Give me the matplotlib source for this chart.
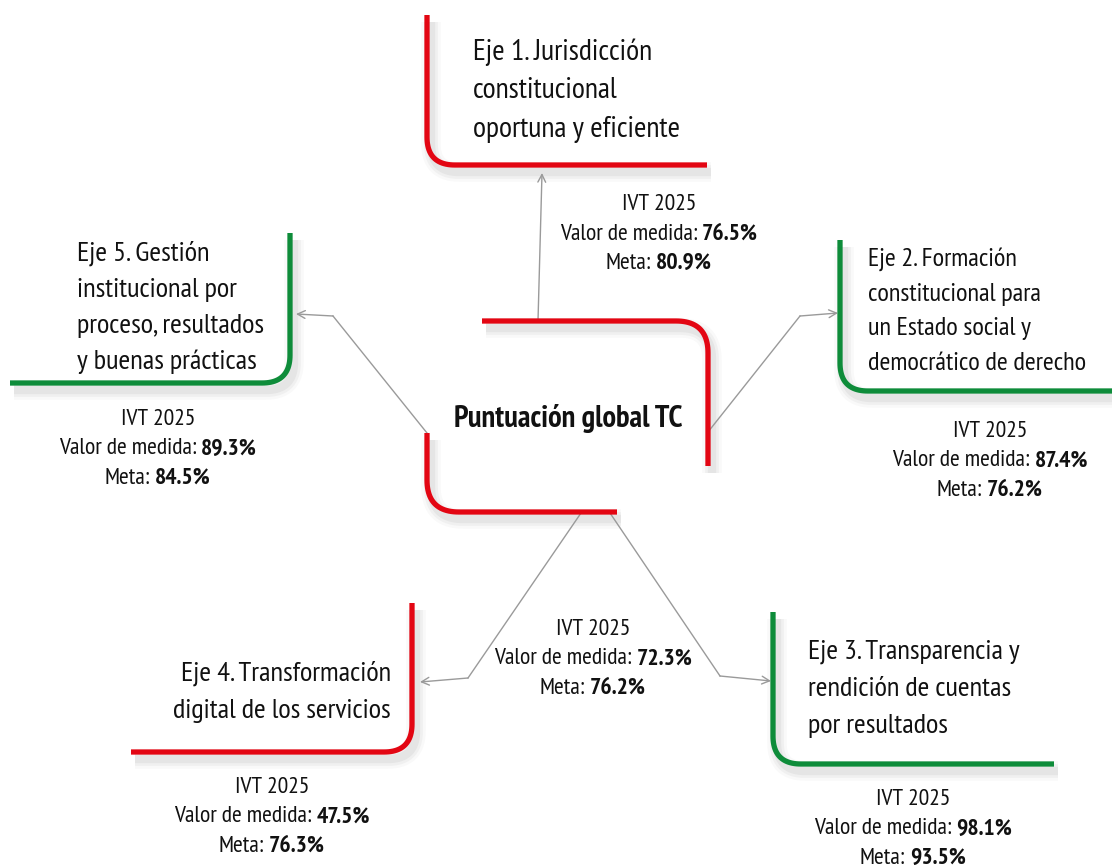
import numpy as np
import matplotlib
matplotlib.use("Agg")
import matplotlib.pyplot as plt

# ---------------- data ----------------
ejes = [
    "Eje 1. Jurisdicción\nconstitucional\noportuna y eficiente",
    "Eje 2. Formación\nconstitucional para\nun Estado social y\ndemocrático de derecho",
    "Eje 3. Transparencia y\nrendición de cuentas\npor resultados",
    "Eje 4. Transformación\ndigital de los servicios",
    "Eje 5. Gestión\ninstitucional por\nproceso, resultados\ny buenas prácticas",
]
valor = [76.5, 87.4, 98.1, 47.5, 89.3]
meta = [80.9, 76.2, 93.5, 76.3, 84.5]
global_titulo = "Puntuación global TC"
global_valor = 72.3
global_meta = 76.2
periodo = "IVT 2025"

# ---------------- style / layout ----------------
RED = "#E30613"
GREEN = "#0E8C3A"
GRAY = "#9a9a9a"
TXT = "#111111"
FONT = ["PT Sans Narrow", "DejaVu Sans"]

W, H = 1112, 865
fig = plt.figure(figsize=(W / 100, H / 100), dpi=100)
ax = fig.add_axes([0, 0, 1, 1])
ax.set_xlim(0, W)
ax.set_ylim(H, 0)
ax.axis("off")
renderer = fig.canvas.get_renderer()


def rounded(pts, r, n=24):
    pts = [np.array(p, float) for p in pts]
    out = [pts[0]]
    for i in range(1, len(pts) - 1):
        A, P, B = pts[i - 1], pts[i], pts[i + 1]
        u1 = (P - A) / np.linalg.norm(P - A)
        u2 = (B - P) / np.linalg.norm(B - P)
        s = P - r * u1
        e = P + r * u2
        t = np.linspace(0, 1, n)[:, None]
        curve = (1 - t) ** 2 * s + 2 * (1 - t) * t * P + t ** 2 * e
        out.extend(curve)
    out.append(pts[-1])
    return np.array(out)


def bracket(pts, r, color):
    p = rounded(pts, r)
    for lw, a in [(14, 0.035), (10, 0.05), (6, 0.07)]:
        ax.plot(p[:, 0] + 4, p[:, 1] + 7, color="#555555", lw=lw, alpha=a,
                solid_capstyle="butt", solid_joinstyle="round", zorder=1)
    ax.plot(p[:, 0], p[:, 1], color=color, lw=3.8, solid_capstyle="butt",
            solid_joinstyle="round", zorder=3)


def arrow(pts):
    pts = np.array(pts, float)
    if len(pts) > 2:
        ax.plot(pts[:-1, 0], pts[:-1, 1], color=GRAY, lw=1.0, zorder=2)
    ax.annotate("", xy=pts[-1], xytext=pts[-2],
                arrowprops=dict(arrowstyle="->,head_length=0.55,head_width=0.28",
                                color=GRAY, lw=1.0, shrinkA=0, shrinkB=0), zorder=2)


def mixed(xc, yb, parts, size):
    texts, widths = [], []
    gap = 0.2 * size * 100 / 72
    for s, w in parts:
        t = ax.text(0, yb, s, fontsize=size, fontweight=w, va="baseline",
                    ha="left", family=FONT, color=TXT, zorder=4)
        widths.append(t.get_window_extent(renderer).width)
        texts.append(t)
    total = sum(widths) + gap * (len(parts) - 1)
    x = xc - total / 2
    for t, wd in zip(texts, widths):
        t.set_x(x)
        x += wd + gap


def stats(xc, yb, v, m, size=17, step=29.5):
    mixed(xc, yb, [(periodo, "normal")], size)
    mixed(xc, yb + step, [("Valor de medida:", "normal"), (f"{v:.1f}%", "bold")], size)
    mixed(xc, yb + 2 * step, [("Meta:", "normal"), (f"{m:.1f}%", "bold")], size)


def label(x, yb, text, size, step, ha="left"):
    for i, line in enumerate(text.split("\n")):
        ax.text(x, yb + i * step, line, fontsize=size, va="baseline", ha=ha,
                family=FONT, color=TXT, zorder=4)


def col(v, m):
    return GREEN if v >= m else RED


# layout per axis: bracket points, label pos, label size, line step, alignment, stats pos
layout = [
    dict(br=[(427, 15), (427, 165), (707, 165)], lab=(473, 60), size=21.5, step=38.5, ha="left", st=(659, 210)),
    dict(br=[(840, 240), (840, 391), (1112, 391)], lab=(868, 266), size=19, step=34.5, ha="left", st=(990, 437)),
    dict(br=[(773, 612), (773, 764), (1054, 764)], lab=(808, 658), size=20.5, step=37.5, ha="left", st=(913, 805)),
    dict(br=[(412, 603), (412, 752), (131, 752)], lab=(391, 680), size=20.5, step=38, ha="right", st=(272, 793)),
    dict(br=[(290, 233), (290, 383), (10, 383)], lab=(77, 260), size=20.5, step=36.5, ha="left", st=(158, 425)),
]

for i, L in enumerate(layout):
    bracket(L["br"], 28, col(valor[i], meta[i]))
    label(L["lab"][0], L["lab"][1], ejes[i], L["size"], L["step"], L["ha"])
    stats(L["st"][0], L["st"][1], valor[i], meta[i])

# central global block
gcol = col(global_valor, global_meta)
bracket([(482, 321), (708, 321), (708, 466)], 32, gcol)
bracket([(427, 433), (427, 512), (617, 512)], 32, gcol)
ax.text(568, 427, global_titulo, fontsize=22, fontweight="bold", ha="center",
        va="baseline", family=FONT, color=TXT, zorder=4)
stats(593, 635, global_valor, global_meta)

# connectors
arrow([(538, 321), (542, 173)])
arrow([(708, 432), (800, 316), (838, 313)])
arrow([(427, 433), (333, 316), (296, 314)])
arrow([(581, 513), (468, 678), (420, 682)])
arrow([(610, 513), (720, 676), (771, 681)])

fig.savefig("out.png", dpi=100, facecolor="white")
